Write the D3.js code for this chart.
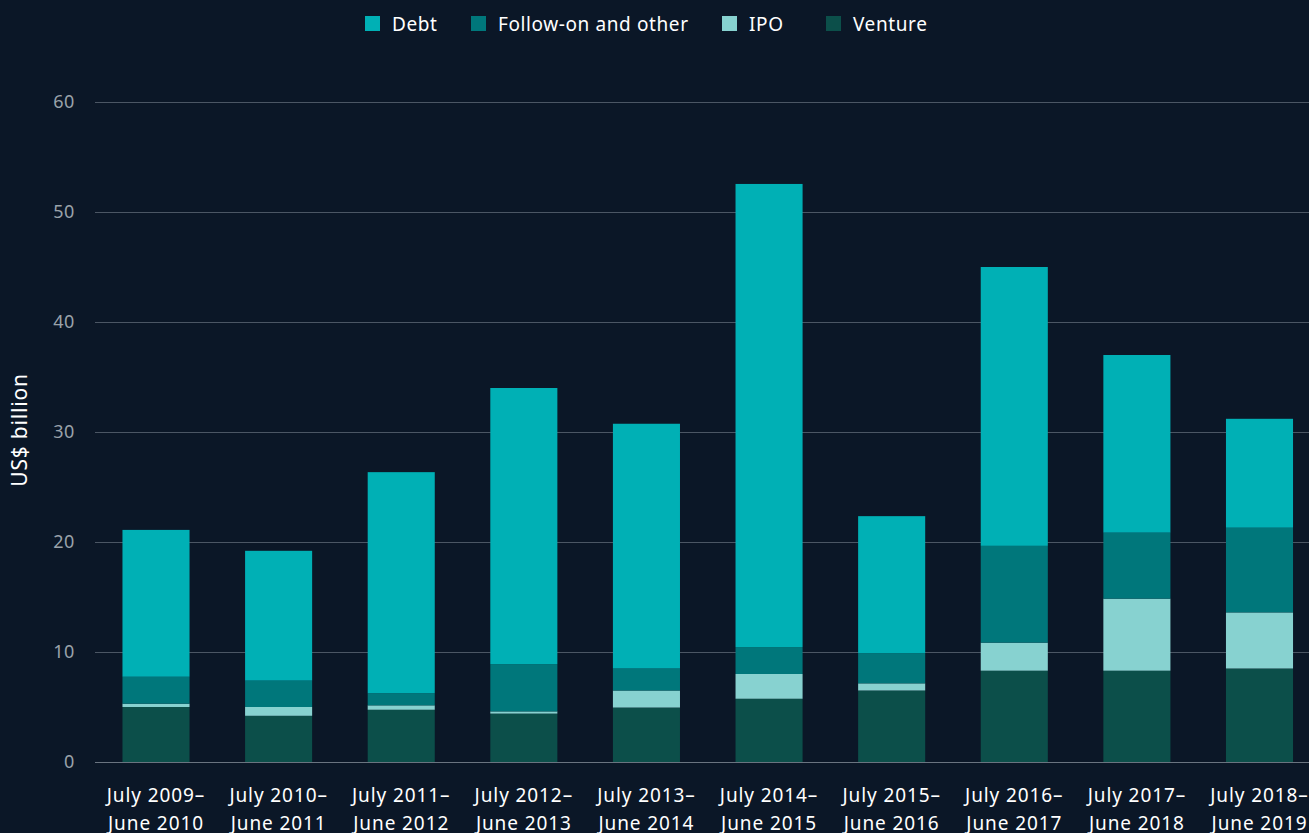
<!DOCTYPE html>
<html lang="en">
<head>
<meta charset="UTF-8">
<title>Capital raised</title>
<script src="https://d3js.org/d3.v7.min.js"></script>
<style>
    body { margin: 0; background: #0b1727; font-family: "Noto Sans", Arial, sans-serif; }
    svg { display: block; }
</style>
</head>
<body>
<svg id="vis"></svg>
<script>
    const width = 1309, height = 833;

    // periods (two-line labels)
    const periodsTop = ["July 2009–", "July 2010–", "July 2011–", "July 2012–", "July 2013–",
        "July 2014–", "July 2015–", "July 2016–", "July 2017–", "July 2018–"];
    const periodsBottom = ["June 2010", "June 2011", "June 2012", "June 2013", "June 2014",
        "June 2015", "June 2016", "June 2017", "June 2018", "June 2019"];

    // US$ billion
    const venture = [5.0, 4.2, 4.75, 4.4, 4.95, 5.75, 6.5, 8.3, 8.3, 8.5];
    const ipo = [0.3, 0.8, 0.4, 0.2, 1.55, 2.25, 0.65, 2.55, 6.55, 5.1];
    const followOn = [2.45, 2.4, 1.1, 4.3, 2.0, 2.45, 2.75, 8.8, 6.0, 7.7];
    const debt = [13.35, 11.8, 20.1, 25.1, 22.25, 42.1, 12.45, 25.35, 16.15, 9.9];

    const seriesKeys = ["Venture", "IPO", "Follow-on and other", "Debt"];
    const legendOrder = ["Debt", "Follow-on and other", "IPO", "Venture"];
    const colors = {
        "Debt": "#00b0b5",
        "Follow-on and other": "#00777b",
        "IPO": "#87d2d0",
        "Venture": "#0c4f4a"
    };
    const yTicks = [0, 10, 20, 30, 40, 50, 60];

    const rows = periodsTop.map((p, i) => ({
        key: p,
        "Venture": venture[i],
        "IPO": ipo[i],
        "Follow-on and other": followOn[i],
        "Debt": debt[i]
    }));

    const svg = d3.select("#vis").attr("width", width).attr("height", height);

    const plotLeft = 95, plotRight = 1309;
    const y = d3.scaleLinear().domain([0, 60]).range([762, 102]);
    const x = d3.scaleBand()
        .domain(periodsTop)
        .range([95, 1320.5])
        .paddingInner(0.453)
        .paddingOuter(0.224);

    // gridlines
    svg.append("g")
        .selectAll("line")
        .data(yTicks)
        .join("line")
        .attr("x1", plotLeft)
        .attr("x2", plotRight)
        .attr("y1", d => Math.round(y(d)) + 0.5)
        .attr("y2", d => Math.round(y(d)) + 0.5)
        .attr("stroke", d => d === 0 ? "#6a7480" : "#4b5664")
        .attr("stroke-width", 1);

    // y tick labels
    svg.append("g")
        .selectAll("text")
        .data(yTicks)
        .join("text")
        .attr("x", 75)
        .attr("y", d => y(d))
        .attr("dy", "0.35em")
        .attr("text-anchor", "end")
        .attr("fill", "#9aa2aa")
        .style("font-size", "18px")
        .style("letter-spacing", "0.6px")
        .text(d => d);

    // y axis title
    svg.append("text")
        .attr("transform", "translate(27,430) rotate(-90)")
        .attr("text-anchor", "middle")
        .attr("fill", "#ffffff")
        .style("font-size", "21px")
        .style("letter-spacing", "0.8px")
        .text("US$ billion");

    // stacked bars
    const stacked = d3.stack().keys(seriesKeys)(rows);
    svg.append("g")
        .selectAll("g")
        .data(stacked)
        .join("g")
        .attr("fill", d => colors[d.key])
        .selectAll("rect")
        .data(d => d)
        .join("rect")
        .attr("x", d => x(d.data.key))
        .attr("width", x.bandwidth())
        .attr("y", d => y(d[1]))
        .attr("height", d => y(d[0]) - y(d[1]));

    // x labels
    const xl = svg.append("g")
        .selectAll("text")
        .data(periodsTop)
        .join("text")
        .attr("x", d => x(d) + x.bandwidth() / 2)
        .attr("text-anchor", "middle")
        .attr("fill", "#ffffff")
        .style("font-size", "19px")
        .style("letter-spacing", "0.9px");
    xl.append("tspan")
        .attr("x", d => x(d) + x.bandwidth() / 2)
        .attr("y", 802)
        .text(d => d);
    xl.append("tspan")
        .attr("x", d => x(d) + x.bandwidth() / 2)
        .attr("y", 830)
        .text((d, i) => periodsBottom[i]);

    // legend
    const legendX = [365, 471, 722, 826];
    const legend = svg.append("g")
        .selectAll("g")
        .data(legendOrder)
        .join("g")
        .attr("transform", (d, i) => `translate(${legendX[i]},16)`);
    legend.append("rect")
        .attr("width", 15)
        .attr("height", 15)
        .attr("fill", d => colors[d]);
    legend.append("text")
        .attr("x", 27)
        .attr("y", 8)
        .attr("dy", "0.35em")
        .attr("fill", "#ffffff")
        .style("font-size", "19px")
        .style("letter-spacing", "0.6px")
        .text(d => d);
</script>
</body>
</html>
